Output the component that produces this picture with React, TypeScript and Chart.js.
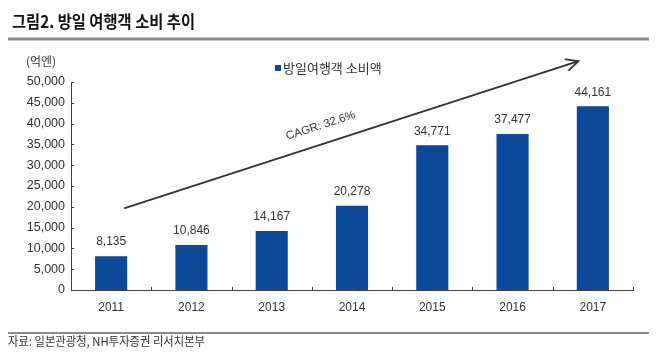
import React, { useEffect, useRef } from 'react';
import { Chart, registerables } from 'chart.js';

Chart.register(...registerables);

// ---- data ----
const years = ['2011', '2012', '2013', '2014', '2015', '2016', '2017'];
const spending = [8135, 10846, 14167, 20278, 34771, 37477, 44161];
const seriesLabel = '방일여행객 소비액';
const yMin = 0;
const yMax = 50000;
const yStep = 5000;

// ---- texts ----
const titleText = '그림2. 방일 여행객 소비 추이';
const unitText = '(억엔)';
const sourceText = '자료: 일본관광청, NH투자증권 리서치본부';
const cagrText = 'CAGR: 32.6%';

// trend arrow in data space: [category index, value]
const arrowStart = [0.17, 19700];
const arrowEnd = [5.82, 55000];

// ---- styles ----
const BAR = '#0b4a98';
const TEXT = '#333333';
const NUM_FONT = '"Liberation Sans", Arial, sans-serif';
const KR_FONT = '"Noto Sans CJK KR", "Noto Sans", sans-serif';

const fmt = (v: number) => v.toLocaleString('en-US');

function scaledText(ctx: CanvasRenderingContext2D, text: string, x: number, y: number, font: string, color: string, width: number) {
  ctx.save();
  ctx.font = font;
  ctx.fillStyle = color;
  ctx.textAlign = 'left';
  ctx.textBaseline = 'middle';
  const w = ctx.measureText(text).width;
  const s = w > 0 ? width / w : 1;
  ctx.translate(x, y);
  ctx.scale(s, 1);
  ctx.fillText(text, 0, 0);
  ctx.restore();
}

function hline(ctx: CanvasRenderingContext2D, x1: number, x2: number, y: number, color: string, lw: number) {
  ctx.save();
  ctx.strokeStyle = color;
  ctx.lineWidth = lw;
  ctx.beginPath();
  ctx.moveTo(x1, y);
  ctx.lineTo(x2, y);
  ctx.stroke();
  ctx.restore();
}

const decor = {
  id: 'decor',
  afterDraw(chart: any) {
    const ctx: CanvasRenderingContext2D = chart.ctx;
    const xs = chart.scales.x;
    const ys = chart.scales.y;
    const area = chart.chartArea;

    // title and rule
    scaledText(ctx, titleText, 12, 22, `bold 17px ${KR_FONT}`, '#111111', 183);
    hline(ctx, 8, 649, 39, '#8a8a8a', 3);

    // unit label
    ctx.save();
    ctx.font = `12px ${KR_FONT}`;
    ctx.fillStyle = TEXT;
    ctx.textAlign = 'center';
    ctx.textBaseline = 'middle';
    ctx.fillText(unitText, 41, 61);
    ctx.restore();

    // legend
    ctx.save();
    ctx.fillStyle = BAR;
    ctx.fillRect(275, 65, 6, 6);
    ctx.font = `13px ${KR_FONT}`;
    ctx.fillStyle = TEXT;
    ctx.textAlign = 'left';
    ctx.textBaseline = 'middle';
    ctx.fillText(chart.data.datasets[0].label, 283, 68);
    ctx.restore();

    // inside tick marks
    ctx.save();
    ctx.strokeStyle = '#404040';
    ctx.lineWidth = 1;
    ctx.beginPath();
    ys.ticks.forEach((t: any) => {
      const py = Math.round(ys.getPixelForValue(t.value)) + 0.5;
      ctx.moveTo(area.left, py);
      ctx.lineTo(area.left + 3, py);
    });
    for (let i = 0; i < years.length; i++) {
      const px = Math.round(xs.getPixelForValue(i + 0.5)) + 0.5;
      ctx.moveTo(px, area.bottom);
      ctx.lineTo(px, area.bottom - 3);
    }
    ctx.stroke();
    ctx.restore();

    // data labels
    const meta = chart.getDatasetMeta(0);
    ctx.save();
    ctx.font = `12px ${NUM_FONT}`;
    ctx.fillStyle = TEXT;
    ctx.textAlign = 'center';
    ctx.textBaseline = 'middle';
    meta.data.forEach((bar: any, i: number) => {
      ctx.fillText(fmt(spending[i]), bar.x, bar.y - 14);
    });
    ctx.restore();

    // trend arrow
    const x1 = xs.getPixelForValue(arrowStart[0]);
    const y1 = ys.getPixelForValue(arrowStart[1]);
    const x2 = xs.getPixelForValue(arrowEnd[0]);
    const y2 = ys.getPixelForValue(arrowEnd[1]);
    const ang = Math.atan2(y2 - y1, x2 - x1);
    ctx.save();
    ctx.strokeStyle = '#333333';
    ctx.lineWidth = 1.8;
    ctx.lineCap = 'round';
    ctx.beginPath();
    ctx.moveTo(x1, y1);
    ctx.lineTo(x2, y2);
    const hl = 13;
    const ha = 0.45;
    ctx.moveTo(x2 - hl * Math.cos(ang - ha), y2 - hl * Math.sin(ang - ha));
    ctx.lineTo(x2, y2);
    ctx.lineTo(x2 - hl * Math.cos(ang + ha), y2 - hl * Math.sin(ang + ha));
    ctx.stroke();
    // CAGR label along arrow
    const t = 0.444;
    const mx = x1 + (x2 - x1) * t;
    const my = y1 + (y2 - y1) * t;
    const off = 18;
    const cx = mx + off * Math.sin(ang);
    const cy = my - off * Math.cos(ang);
    ctx.translate(cx, cy);
    ctx.rotate(ang);
    ctx.font = `11.5px ${NUM_FONT}`;
    ctx.fillStyle = TEXT;
    ctx.textAlign = 'center';
    ctx.textBaseline = 'middle';
    ctx.fillText(cagrText, 0, 0);
    ctx.restore();

    // footer rule and source
    hline(ctx, 8, 649, 333, '#8a8a8a', 2);
    scaledText(ctx, sourceText, 8, 341, `12px ${KR_FONT}`, TEXT, 197);
  },
};

export default function App() {
  const ref = useRef<HTMLCanvasElement | null>(null);

  useEffect(() => {
    if (!ref.current) return;
    const chart = new Chart(ref.current, {
      type: 'bar',
      data: {
        labels: years,
        datasets: [
          {
            label: seriesLabel,
            data: spending,
            backgroundColor: BAR,
            borderWidth: 0,
            categoryPercentage: 1,
            barPercentage: 0.4,
          },
        ],
      },
      options: {
        responsive: false,
        animation: false,
        devicePixelRatio: 1,
        layout: { padding: { left: 0, right: 37, top: 82, bottom: 0 } },
        plugins: {
          legend: { display: false },
          tooltip: { enabled: false },
          title: { display: false },
        },
        scales: {
          x: {
            type: 'category',
            offset: true,
            grid: { display: false, drawTicks: false },
            border: { display: true, color: '#404040', width: 1 },
            ticks: {
              color: TEXT,
              font: { family: NUM_FONT, size: 12 },
              padding: 10,
              maxRotation: 0,
            },
            afterFit: (s: any) => {
              s.height = 68;
            },
          },
          y: {
            min: yMin,
            max: yMax,
            grid: { display: false, drawTicks: false },
            border: { display: true, color: '#404040', width: 1 },
            ticks: {
              stepSize: yStep,
              color: TEXT,
              font: { family: NUM_FONT, size: 12.5 },
              padding: 6,
              callback: (v: any) => fmt(Number(v)),
            },
            afterFit: (s: any) => {
              s.width = 71;
            },
          },
        },
      },
      plugins: [decor],
    });
    return () => chart.destroy();
  }, []);

  return (
    <div style={{ position: 'absolute', left: 0, top: 0, width: 670, height: 358, background: '#ffffff' }}>
      <canvas ref={ref} width={670} height={358} />
    </div>
  );
}
